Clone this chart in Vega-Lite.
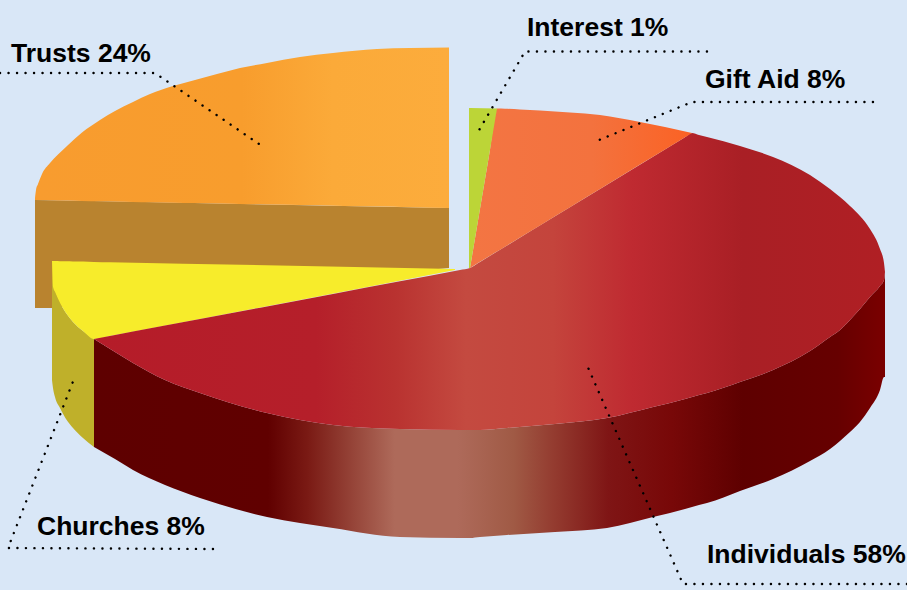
{"$schema":"https://vega.github.io/schema/vega-lite/v6.json","width":907,"height":590,"padding":0,"autosize":{"type":"none"},"background":"#d9e7f7","config":{"view":{"stroke":null}},
"datasets":{
"trustsSide":[{"x":35,"y":200,"y2":308},{"x":52,"y":200.3,"y2":308},{"x":120,"y":201.6,"y2":300},{"x":449,"y":208,"y2":268}],
"trustsTop":[{"x":35,"y":198,"y2":200},{"x":36,"y":190,"y2":200},{"x":38,"y":184,"y2":200.1},{"x":42,"y":174,"y2":200.1},{"x":50,"y":163,"y2":200.3},{"x":58,"y":154.5,"y2":200.4},{"x":67,"y":146,"y2":200.6},{"x":82,"y":132.5,"y2":200.9},{"x":100,"y":120,"y2":201.3},{"x":115,"y":111,"y2":201.5},{"x":133,"y":102,"y2":201.9},{"x":150,"y":94,"y2":202.2},{"x":173,"y":86,"y2":202.7},{"x":195,"y":80,"y2":203.1},{"x":217,"y":74,"y2":203.5},{"x":240,"y":68,"y2":204},{"x":267,"y":63,"y2":204.5},{"x":300,"y":57,"y2":205.1},{"x":333,"y":53,"y2":205.8},{"x":377,"y":49,"y2":206.6},{"x":410,"y":48,"y2":207.2},{"x":449,"y":47.5,"y2":208}],
"churchesSide":[{"x":52,"y":261,"y2":380},{"x":53,"y":287,"y2":388},{"x":55,"y":292,"y2":397},{"x":60,"y":303,"y2":408},{"x":66,"y":313,"y2":419},{"x":73,"y":322,"y2":428},{"x":83,"y":331,"y2":438},{"x":94,"y":339,"y2":447}],
"churchesTop":[{"x":52,"y":261,"y2":261},{"x":53,"y":261,"y2":287},{"x":55,"y":261.1,"y2":292},{"x":60,"y":261.2,"y2":303},{"x":66,"y":261.3,"y2":313},{"x":73,"y":261.4,"y2":322},{"x":83,"y":261.6,"y2":331},{"x":94,"y":261.9,"y2":339},{"x":110,"y":262.2,"y2":336},{"x":455,"y":269,"y2":270}],
"individualsSide":[{"x":94,"y":339,"y2":447},{"x":115,"y":352,"y2":459},{"x":133,"y":363,"y2":470},{"x":165,"y":380,"y2":485},{"x":200,"y":393,"y2":498},{"x":267,"y":413,"y2":517},{"x":333,"y":425,"y2":528},{"x":400,"y":429,"y2":537},{"x":460,"y":430,"y2":538},{"x":470,"y":430,"y2":538},{"x":480,"y":430,"y2":537},{"x":507,"y":428,"y2":535},{"x":555,"y":424,"y2":532},{"x":607,"y":418,"y2":528},{"x":653,"y":407,"y2":517},{"x":685,"y":399,"y2":509},{"x":692,"y":397,"y2":507},{"x":699,"y":395,"y2":505},{"x":707,"y":393,"y2":503},{"x":740,"y":382,"y2":491},{"x":773,"y":370,"y2":479},{"x":810,"y":351,"y2":461},{"x":830,"y":337,"y2":449},{"x":840,"y":330,"y2":441},{"x":850,"y":320,"y2":432},{"x":860,"y":309,"y2":422},{"x":870,"y":297,"y2":408},{"x":880,"y":286,"y2":390},{"x":884,"y":280,"y2":377},{"x":885,"y":272,"y2":377}],
"individualsTop":[{"x":94,"y":339,"y2":339},{"x":115,"y":335,"y2":352},{"x":133,"y":331.6,"y2":363},{"x":165,"y":325.6,"y2":380},{"x":200,"y":319,"y2":393},{"x":267,"y":306.4,"y2":413},{"x":333,"y":294,"y2":425},{"x":400,"y":281.3,"y2":429},{"x":460,"y":270,"y2":430},{"x":470,"y":268,"y2":430},{"x":480,"y":261.9,"y2":430},{"x":507,"y":245.5,"y2":428},{"x":555,"y":216.3,"y2":424},{"x":607,"y":184.7,"y2":418},{"x":653,"y":156.7,"y2":407},{"x":685,"y":137.3,"y2":399},{"x":692,"y":133,"y2":397},{"x":699,"y":135,"y2":395},{"x":707,"y":137,"y2":393},{"x":740,"y":146,"y2":382},{"x":773,"y":157,"y2":370},{"x":810,"y":175,"y2":351},{"x":830,"y":189,"y2":337},{"x":840,"y":197,"y2":330},{"x":850,"y":206,"y2":320},{"x":860,"y":216,"y2":309},{"x":870,"y":229,"y2":297},{"x":880,"y":249,"y2":286},{"x":884,"y":263,"y2":280},{"x":885,"y":272,"y2":272}],
"giftAidTop":[{"x":470,"y":268,"y2":268},{"x":490,"y":149.8,"y2":255.8},{"x":497,"y":108.5,"y2":251.6},{"x":505,"y":108.7,"y2":246.7},{"x":520,"y":109.5,"y2":237.6},{"x":540,"y":110.5,"y2":225.4},{"x":570,"y":112.5,"y2":207.2},{"x":600,"y":115,"y2":189},{"x":640,"y":122,"y2":164.6},{"x":665,"y":127,"y2":149.4},{"x":692,"y":133,"y2":133}],
"interestTop":[{"x":469,"y":108,"y2":268},{"x":470,"y":108,"y2":268},{"x":497,"y":108.5,"y2":108.5}],
"leaders":[
{"leader":"Trusts","seq":1,"x":0,"y":73},{"leader":"Trusts","seq":2,"x":155,"y":73},{"leader":"Trusts","seq":3,"x":262,"y":146},
{"leader":"Interest","seq":1,"x":707,"y":51.5},{"leader":"Interest","seq":2,"x":525,"y":51.5},{"leader":"Interest","seq":3,"x":478,"y":132},
{"leader":"Gift Aid","seq":1,"x":873,"y":102},{"leader":"Gift Aid","seq":2,"x":692,"y":102},{"leader":"Gift Aid","seq":3,"x":599,"y":140},
{"leader":"Churches","seq":1,"x":213,"y":549},{"leader":"Churches","seq":2,"x":8,"y":548},{"leader":"Churches","seq":3,"x":74,"y":379},
{"leader":"Individuals","seq":1,"x":907,"y":584},{"leader":"Individuals","seq":2,"x":683,"y":584},{"leader":"Individuals","seq":3,"x":586,"y":363}
],
"labels":[
{"label":"Trusts 24%","share":24,"x":11,"y":62},
{"label":"Interest 1%","share":1,"x":527,"y":36},
{"label":"Gift Aid 8%","share":8,"x":705,"y":88},
{"label":"Churches 8%","share":8,"x":37,"y":535},
{"label":"Individuals 58%","share":58,"x":707,"y":563}
]},
"encoding":{
"x":{"field":"x","type":"quantitative","scale":{"domain":[0,907],"nice":false,"zero":false},"axis":null},
"y":{"field":"y","type":"quantitative","scale":{"domain":[590,0],"nice":false,"zero":false},"axis":null}
},
"layer":[
{"data":{"name":"trustsSide"},"mark":{"type":"area","fill":"#b9832f"},"encoding":{"y2":{"field":"y2"}}},
{"data":{"name":"trustsTop"},"mark":{"type":"area","interpolate":"monotone","fill":{"gradient":"linear","x1":0,"x2":1,"y1":0,"y2":0,"stops":[{"offset":0,"color":"#f89c2f"},{"offset":0.5,"color":"#f89d2d"},{"offset":0.72,"color":"#fbaa39"},{"offset":1,"color":"#fcac3c"}]}},"encoding":{"y2":{"field":"y2"}}},
{"data":{"name":"churchesSide"},"mark":{"type":"area","interpolate":"monotone","fill":"#bfb02a"},"encoding":{"y2":{"field":"y2"}}},
{"data":{"name":"churchesTop"},"mark":{"type":"area","interpolate":"monotone","fill":"#f7ec2b"},"encoding":{"y2":{"field":"y2"}}},
{"data":{"name":"individualsSide"},"mark":{"type":"area","interpolate":"monotone","fill":{"gradient":"linear","x1":0,"x2":1,"y1":0,"y2":0,"stops":[{"offset":0,"color":"#5e0000"},{"offset":0.22,"color":"#600000"},{"offset":0.27,"color":"#7a1a14"},{"offset":0.33,"color":"#97463a"},{"offset":0.38,"color":"#ae6a5a"},{"offset":0.46,"color":"#ae6a5a"},{"offset":0.53,"color":"#a05a45"},{"offset":0.58,"color":"#943c30"},{"offset":0.65,"color":"#7f1515"},{"offset":0.73,"color":"#780808"},{"offset":0.82,"color":"#5e0000"},{"offset":0.94,"color":"#660000"},{"offset":1,"color":"#7a0000"}]}},"encoding":{"y2":{"field":"y2"}}},
{"data":{"name":"individualsTop"},"mark":{"type":"area","interpolate":"monotone","fill":{"gradient":"linear","x1":0,"x2":1,"y1":0,"y2":0,"stops":[{"offset":0,"color":"#b51c29"},{"offset":0.28,"color":"#b51f2a"},{"offset":0.38,"color":"#b93230"},{"offset":0.47,"color":"#c44a40"},{"offset":0.58,"color":"#c4443c"},{"offset":0.68,"color":"#bf2a31"},{"offset":0.82,"color":"#a91f25"},{"offset":1,"color":"#b01f24"}]}},"encoding":{"y2":{"field":"y2"}}},
{"data":{"name":"giftAidTop"},"mark":{"type":"area","interpolate":"monotone","fill":{"gradient":"linear","x1":0,"x2":1,"y1":0,"y2":0,"stops":[{"offset":0,"color":"#f37543"},{"offset":0.55,"color":"#f3723e"},{"offset":1,"color":"#fb6224"}]}},"encoding":{"y2":{"field":"y2"}}},
{"data":{"name":"interestTop"},"mark":{"type":"area","fill":"#bcd537"},"encoding":{"y2":{"field":"y2"}}},
{"data":{"name":"leaders"},"mark":{"type":"line","stroke":"#000000","strokeWidth":2.4,"strokeCap":"round","strokeDash":[0.1,8.4]},"encoding":{"detail":{"field":"leader"},"order":{"field":"seq","type":"quantitative"}}},
{"data":{"name":"labels"},"mark":{"type":"text","align":"left","baseline":"alphabetic","font":"Liberation Sans","fontWeight":"bold","fontSize":26.5,"fill":"#000000"},"encoding":{"text":{"field":"label"}}}
]}
